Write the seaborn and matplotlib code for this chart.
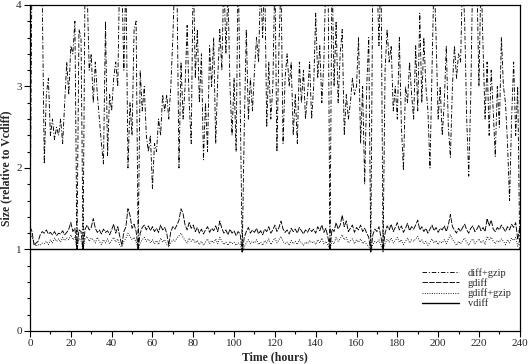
import matplotlib
matplotlib.use("Agg")
import matplotlib.pyplot as plt
from matplotlib.ticker import MultipleLocator
from matplotlib.lines import Line2D
import seaborn as sns

# hourly samples, 0..240
hours = list(range(241))

diff_gzip = [
    1.0, 4.6, 4.4, 4.5, 4.3, 4.2, 4.1, 2.05, 2.9, 3.1,
    2.4, 2.6, 2.35, 2.5, 2.4, 2.6, 2.3, 2.8, 3.3, 2.9,
    3.5, 3.4, 3.8, 1.0, 3.7, 3.6, 1.0, 4.4, 4.2, 3.2,
    3.4, 2.8, 3.3, 2.9, 2.6, 2.3, 2.05, 3.8, 2.15, 2.9,
    2.7, 3.1, 3.3, 3.0, 4.5, 4.3, 3.2, 4.4, 2.0, 2.8,
    2.4, 3.7, 3.8, 1.0, 3.2, 2.7, 3.0, 2.4, 2.2, 2.4,
    1.75, 2.3, 2.2, 2.6, 2.4, 2.9, 2.7, 2.9, 2.6, 3.0,
    3.6, 4.4, 4.3, 2.0, 3.3, 2.6, 3.0, 3.75, 2.8, 2.3,
    4.5, 3.1, 3.7, 2.8, 3.4, 2.1, 2.8, 2.2, 3.5, 3.0,
    3.6, 2.3, 3.1, 3.7, 3.2, 4.4, 3.4, 4.2, 3.0, 2.4,
    3.1, 2.2, 4.5, 2.8, 0.97, 2.5, 3.7, 2.6, 3.1, 2.7,
    3.2, 3.6, 3.3, 4.3, 3.6, 4.4, 2.5, 3.3, 2.6, 3.0,
    4.4, 2.2, 3.5, 4.3, 2.3, 3.1, 3.4, 3.0, 3.3, 2.4,
    2.9, 2.3, 3.3, 2.8, 3.2, 2.6, 2.9, 3.3, 2.6, 3.0,
    3.9, 3.1, 3.5, 2.8, 3.3, 4.4, 4.6, 1.0, 4.5, 3.0,
    3.8, 2.8, 3.4, 3.7, 2.4, 2.9, 2.6, 2.8, 3.1, 2.9,
    3.0, 3.6, 2.3, 3.0, 1.8, 3.0, 3.6, 0.97, 4.5, 4.3,
    4.4, 3.5, 4.5, 0.97, 3.2, 3.7, 3.3, 3.5, 2.7, 3.0,
    2.6, 3.6, 2.5, 1.97, 3.0, 2.8, 3.3, 2.9, 2.6, 3.5,
    2.7, 3.9, 2.8, 3.6, 3.0, 2.7, 2.0, 3.2, 4.4, 3.6,
    2.6, 3.0, 2.4, 2.8, 3.5, 2.5, 2.13, 3.0, 3.5, 3.1,
    3.4, 3.3, 4.4, 3.8, 2.6, 1.9, 2.9, 4.5, 4.4, 4.3,
    3.0, 4.4, 3.5, 2.6, 3.3, 2.4, 3.2, 2.7, 2.14, 3.0,
    2.5, 3.6, 3.0, 2.8, 2.3, 1.6, 2.6, 3.3, 2.4, 3.0,
    1.0,
]

gdiff = [
    1.28, 1.22, 1.05, 1.08, 1.10, 1.18, 1.22, 1.20, 1.24, 1.19,
    1.21, 1.18, 1.22, 1.17, 1.20, 1.19, 1.23, 1.18, 1.21, 1.25,
    1.33, 1.22, 1.26, 1.0, 1.24, 1.22, 1.0, 1.25, 1.30, 1.24,
    1.27, 1.38, 1.26, 1.21, 1.24, 1.19, 1.25, 1.21, 1.23, 1.18,
    1.24, 1.31, 1.20, 1.28, 1.16, 1.05, 1.22, 1.28, 1.50, 1.42,
    1.26, 1.31, 1.22, 1.0, 1.20, 1.27, 1.30, 1.24, 1.29, 1.23,
    1.28, 1.22, 1.26, 1.21, 1.30, 1.24, 1.27, 1.20, 1.05, 1.22,
    1.28, 1.25, 1.30, 1.36, 1.50, 1.44, 1.30, 1.24, 1.33, 1.26,
    1.30, 1.22, 1.27, 1.20, 1.25, 1.19, 1.24, 1.28, 1.21, 1.26,
    1.23, 1.29, 1.22, 1.35, 1.26, 1.20, 1.24, 1.18, 1.25, 1.20,
    1.23, 1.17, 1.22, 1.19, 0.97, 1.15, 1.22, 1.27, 1.20, 1.24,
    1.21, 1.26, 1.19, 1.23, 1.18, 1.25, 1.22, 1.28, 1.20, 1.24,
    1.30, 1.22, 1.27, 1.35, 1.25, 1.21, 1.24, 1.19, 1.26, 1.22,
    1.25, 1.20, 1.27, 1.23, 1.19, 1.24, 1.21, 1.26, 1.22, 1.25,
    1.20, 1.28, 1.23, 1.30, 1.21, 1.26, 1.15, 1.0, 1.25, 1.22,
    1.33, 1.25, 1.30, 1.42, 1.28, 1.35, 1.22, 1.26, 1.30, 1.21,
    1.27, 1.24, 1.30, 1.22, 1.26, 1.20, 1.15, 0.97, 1.18, 1.25,
    1.22, 1.28, 1.15, 1.0, 1.20, 1.29, 1.24, 1.31, 1.22, 1.27,
    1.33, 1.24, 1.29, 1.21, 1.26, 1.32, 1.23, 1.28, 1.25, 1.30,
    1.36, 1.24, 1.28, 1.22, 1.26, 1.20, 1.25, 1.30, 1.23, 1.27,
    1.21, 1.26, 1.24, 1.29, 1.22, 1.30, 1.43, 1.28, 1.24, 1.20,
    1.26, 1.22, 1.27, 1.31, 1.24, 1.20, 1.26, 1.29, 1.22, 1.25,
    1.30, 1.23, 1.27, 1.22, 1.38, 1.29, 1.36, 1.25, 1.22, 1.27,
    1.24, 1.30, 1.26, 1.22, 1.28, 1.24, 1.31, 1.27, 1.33, 1.12,
    1.28,
]

gdiff_gzip = [
    1.22, 1.15, 1.08, 1.04, 1.06, 1.05, 1.08, 1.07, 1.10, 1.06,
    1.12, 1.08, 1.14, 1.10, 1.13, 1.09, 1.15, 1.11, 1.14, 1.12,
    1.18, 1.12, 1.15, 1.0, 1.14, 1.10, 1.0, 1.13, 1.16, 1.10,
    1.14, 1.12, 1.08, 1.15, 1.10, 1.06, 1.12, 1.08, 1.13, 1.07,
    1.11, 1.15, 1.09, 1.13, 1.05, 1.03, 1.10, 1.14, 1.20, 1.16,
    1.12, 1.15, 1.09, 1.0, 1.08, 1.12, 1.15, 1.10, 1.13, 1.08,
    1.12, 1.07, 1.11, 1.06, 1.14, 1.09, 1.12, 1.06, 1.03, 1.08,
    1.12, 1.10, 1.14, 1.17, 1.20, 1.15, 1.11, 1.08, 1.14, 1.10,
    1.13, 1.08, 1.11, 1.06, 1.10, 1.05, 1.09, 1.13, 1.07, 1.11,
    1.08, 1.13, 1.07, 1.15, 1.10, 1.06, 1.09, 1.05, 1.10, 1.07,
    1.09, 1.05, 1.08, 1.06, 0.97, 1.03, 1.08, 1.12, 1.07, 1.10,
    1.08, 1.12, 1.06, 1.09, 1.05, 1.11, 1.08, 1.13, 1.06, 1.10,
    1.14, 1.08, 1.12, 1.16, 1.10, 1.07, 1.09, 1.05, 1.11, 1.07,
    1.10, 1.06, 1.12, 1.08, 1.05, 1.09, 1.07, 1.11, 1.08, 1.10,
    1.06, 1.12, 1.08, 1.14, 1.07, 1.10, 1.05, 1.0, 1.10, 1.07,
    1.15, 1.10, 1.13, 1.18, 1.12, 1.15, 1.08, 1.11, 1.13, 1.07,
    1.12, 1.09, 1.13, 1.07, 1.10, 1.06, 1.04, 0.97, 1.06, 1.10,
    1.08, 1.12, 1.04, 1.0, 1.07, 1.13, 1.09, 1.14, 1.08, 1.11,
    1.15, 1.09, 1.12, 1.06, 1.10, 1.14, 1.08, 1.12, 1.10, 1.13,
    1.16, 1.09, 1.12, 1.07, 1.10, 1.05, 1.09, 1.13, 1.08, 1.11,
    1.06, 1.10, 1.08, 1.12, 1.07, 1.13, 1.18, 1.12, 1.09, 1.05,
    1.10, 1.07, 1.11, 1.14, 1.09, 1.05, 1.10, 1.13, 1.07, 1.10,
    1.13, 1.08, 1.11, 1.06, 1.16, 1.12, 1.15, 1.10, 1.07, 1.11,
    1.09, 1.13, 1.10, 1.06, 1.12, 1.08, 1.14, 1.11, 1.15, 1.04,
    1.12,
]

# vdiff is the reference: constant 1 over the whole run
vdiff_hours = [0, 240]
vdiff = [1.0, 1.0]

sns.set_style("ticks")
plt.rcParams["font.family"] = ["Liberation Serif", "DejaVu Serif"]

fig = plt.figure(figsize=(5.32, 3.64), dpi=100)
ax = fig.add_axes([0.0564, 0.0907, 0.9206, 0.8956])

LW = 0.65
styles = {
    "diff+gzip": (0, (5, 2, 1.2, 2)),
    "gdiff": (0, (6, 1.5)),
    "gdiff+gzip": (0, (1, 1.6)),
    "vdiff": "-",
}

sns.lineplot(x=hours, y=diff_gzip, ax=ax, color="black", lw=LW,
             linestyle=styles["diff+gzip"])
sns.lineplot(x=hours, y=gdiff, ax=ax, color="black", lw=LW,
             linestyle=styles["gdiff"])
sns.lineplot(x=hours, y=gdiff_gzip, ax=ax, color="black", lw=LW,
             linestyle=styles["gdiff+gzip"])
sns.lineplot(x=vdiff_hours, y=vdiff, ax=ax, color="black", lw=1.0,
             linestyle=styles["vdiff"])

ax.set_xlim(0, 240)
ax.set_ylim(0, 4)
ax.xaxis.set_major_locator(MultipleLocator(20))
ax.xaxis.set_minor_locator(MultipleLocator(10))
ax.yaxis.set_major_locator(MultipleLocator(1))
ax.yaxis.set_minor_locator(MultipleLocator(0.2))
ax.tick_params(which="major", direction="out", length=4, width=0.8,
               labelsize=8, pad=2, color="black")
ax.tick_params(which="minor", direction="out", length=2.5, width=0.8,
               color="black")
for s in ax.spines.values():
    s.set_linewidth(0.9)
    s.set_color("black")

ax.set_xlabel("Time (hours)", fontsize=8.5, fontweight="bold", labelpad=2)
ax.set_ylabel("Size (relative to Vcdiff)", fontsize=8.5, fontweight="bold",
              labelpad=3)

handles = [Line2D([], [], color="black", lw=LW, linestyle=styles[k])
           for k in ["diff+gzip", "gdiff", "gdiff+gzip"]]
handles.append(Line2D([], [], color="black", lw=1.0, linestyle="-"))
ax.legend(handles, ["diff+gzip", "gdiff", "gdiff+gzip", "vdiff"],
          loc="upper left", bbox_to_anchor=(0.785, 0.215), frameon=False,
          fontsize=7.5, handlelength=3.6, handletextpad=0.8,
          labelspacing=0.05, borderpad=0.2)

plt.savefig("out.png", dpi=100)
